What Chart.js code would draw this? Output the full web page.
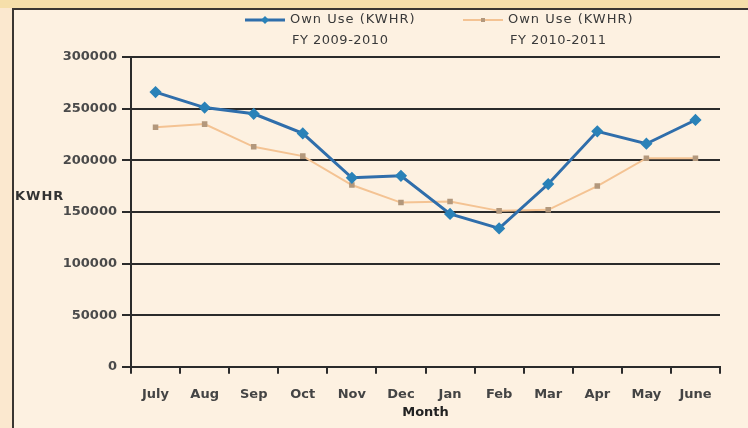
<!DOCTYPE html>
<html>
<head>
<meta charset="utf-8">
<script src="https://cdn.jsdelivr.net/npm/chart.js@4.4.1/dist/chart.umd.min.js"></script>
<style>
  html, body { margin: 0; padding: 0; background: #fbe8cf; }
  #wrap { width: 748px; height: 428px; }
</style>
</head>
<body>
<div id="wrap"><canvas id="ownUse" width="748" height="428"></canvas></div>
<script>
// months of the financial year
var months = ['July', 'Aug', 'Sep', 'Oct', 'Nov', 'Dec', 'Jan', 'Feb', 'Mar', 'Apr', 'May', 'June'];

// own use in KWHR
var fy0910 = [266000, 251000, 245000, 226000, 183000, 185000, 148000, 134000, 177000, 228000, 216000, 239000];
var fy1011 = [232000, 235000, 213000, 204000, 176000, 159000, 160000, 151000, 152000, 175000, 202000, 202000];

var seriesNames = [['Own Use (KWHR)', 'FY 2009-2010'], ['Own Use (KWHR)', 'FY 2010-2011']];
var yTicks = [0, 50000, 100000, 150000, 200000, 250000, 300000];

var FONT = '"DejaVu Sans", sans-serif';
var INK = '#2b2b2b';

// frame, custom two-line legend and horizontal y title
var decor = {
    id: 'decor',
    beforeDraw: function (chart) {
        var c = chart.ctx;
        c.save();
        c.fillStyle = '#f6dfaa';
        c.fillRect(0, 0, chart.width, 8);
        c.fillStyle = '#fbe8cf';
        c.fillRect(0, 8, 12, chart.height);
        c.fillStyle = '#fdf1e1';
        c.fillRect(12, 8, chart.width, chart.height);
        c.strokeStyle = '#3a3632';
        c.lineWidth = 2;
        c.beginPath();
        c.moveTo(13, chart.height);
        c.lineTo(13, 9);
        c.lineTo(chart.width, 9);
        c.stroke();
        c.restore();
    },
    afterDraw: function (chart) {
        var c = chart.ctx;
        c.save();
        // y axis title, horizontal
        c.font = 'bold 13px ' + FONT;
        c.fillStyle = '#333';
        c.textBaseline = 'middle';
        c.textAlign = 'left';
        c.letterSpacing = '1px';
        c.fillText('KWHR', 15, 197);

        // legend
        var spots = [245, 463];
        chart.data.datasets.forEach(function (ds, i) {
            var x = spots[i], y = 20;
            c.strokeStyle = ds.borderColor;
            c.lineWidth = ds.borderWidth;
            c.beginPath();
            c.moveTo(x, y);
            c.lineTo(x + 40, y);
            c.stroke();
            c.fillStyle = ds.pointBackgroundColor;
            c.beginPath();
            if (i === 0) {
                c.moveTo(x + 20, y - 4);
                c.lineTo(x + 24, y);
                c.lineTo(x + 20, y + 4);
                c.lineTo(x + 16, y);
                c.closePath();
            } else {
                c.rect(x + 18, y - 2, 4, 4);
            }
            c.fill();
            c.font = '13px ' + FONT;
            c.fillStyle = '#3a3a3a';
            c.letterSpacing = '1px';
            c.fillText(seriesNames[i][0], x + 45, y);
            c.letterSpacing = '0.5px';
            c.fillText(seriesNames[i][1], x + 47, y + 21);
        });
        c.restore();
    }
};

var ctx = document.getElementById('ownUse');

var myChart = new Chart(ctx, {
    type: 'line',
    data: {
        labels: months,
        datasets: [{
            label: seriesNames[0].join(' '),
            data: fy0910,
            borderColor: '#2f6eab',
            backgroundColor: '#2f6eab',
            pointBackgroundColor: '#2a82b8',
            pointBorderColor: '#2a82b8',
            pointStyle: 'rectRot',
            pointRadius: 4,
            borderWidth: 3,
            tension: 0
        }, {
            label: seriesNames[1].join(' '),
            data: fy1011,
            borderColor: '#f4c393',
            backgroundColor: '#f4c393',
            pointBackgroundColor: '#b3987c',
            pointBorderColor: '#b3987c',
            pointStyle: 'rect',
            pointRadius: 2.5,
            borderWidth: 2,
            tension: 0
        }]
    },
    options: {
        responsive: false,
        animation: false,
        layout: { padding: { top: 57, right: 28, left: 0, bottom: 8 } },
        plugins: {
            legend: { display: false },
            tooltip: { enabled: false }
        },
        scales: {
            x: {
                offset: true,
                grid: {
                    offset: true,
                    drawOnChartArea: false,
                    drawTicks: true,
                    tickLength: 7,
                    color: INK,
                    lineWidth: 2
                },
                border: { display: true, color: INK, width: 2 },
                ticks: {
                    color: '#444',
                    font: { family: FONT, size: 13, weight: 'bold' },
                    padding: 13,
                    maxRotation: 0,
                    autoSkip: false
                },
                title: {
                    display: true,
                    text: 'Month',
                    color: '#222',
                    font: { family: FONT, size: 13, weight: 'bold' },
                    padding: { top: -11, bottom: 0 }
                }
            },
            y: {
                min: 0,
                max: 300000,
                afterBuildTicks: function (scale) {
                    scale.ticks = yTicks.map(function (v) { return { value: v }; });
                },
                afterFit: function (scale) { scale.width = 131; },
                grid: {
                    color: INK,
                    lineWidth: 2,
                    drawTicks: true,
                    tickLength: 9
                },
                border: { display: true, color: INK, width: 2 },
                ticks: {
                    color: '#4a4a4a',
                    font: { family: FONT, size: 13, weight: 'bold' },
                    padding: 5,
                    callback: function (v) { return String(v); }
                }
            }
        }
    },
    plugins: [decor]
});
</script>
</body>
</html>
